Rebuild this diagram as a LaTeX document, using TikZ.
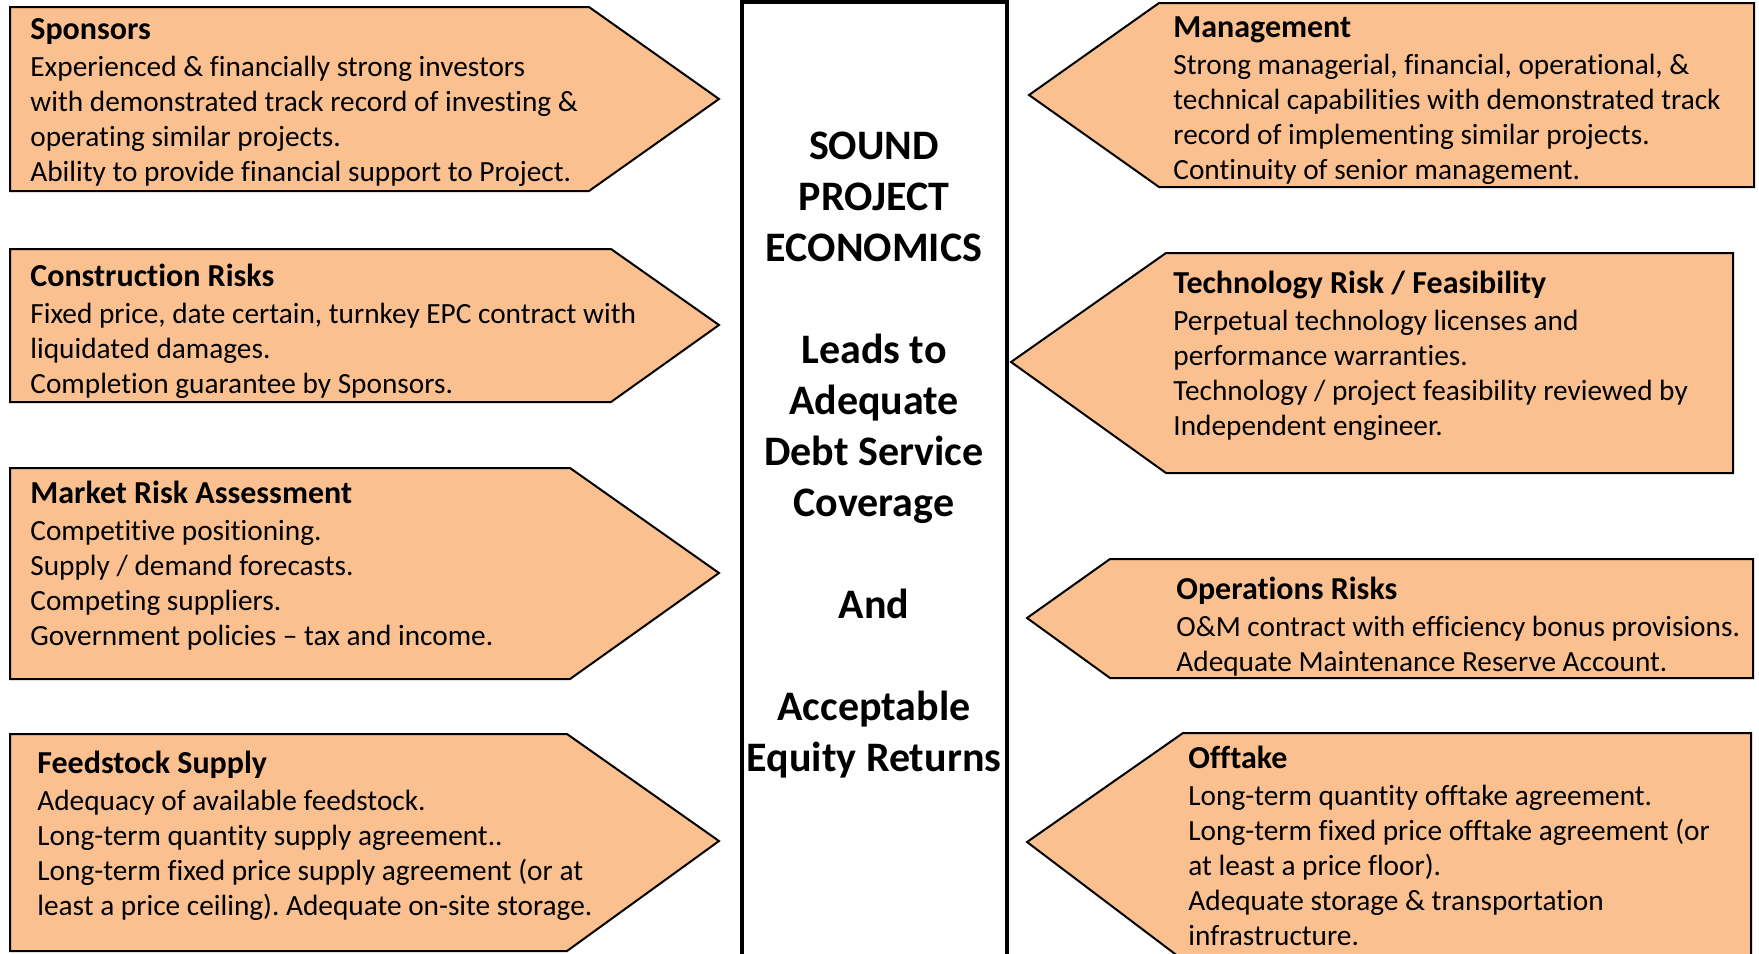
\documentclass[tikz,border=0pt]{standalone}
\usepackage{fontspec}
\setmainfont[Ligatures=NoCommon]{Carlito}
\usepackage{tikz}
\usetikzlibrary{positioning}
\frenchspacing
\definecolor{panelfill}{HTML}{FAC090}
\tikzstyle{panel} = [draw=black, line width=1pt, fill=panelfill, line join=miter]
\tikzstyle{core} = [draw=black, line width=2pt]
\tikzstyle{txt} = [anchor=north west, inner sep=0pt, align=left, font=\fontsize{14.65}{17.5}\selectfont]
\tikzstyle{headline} = [anchor=north, inner sep=0pt, align=center, font=\bfseries\fontsize{21}{25.5}\selectfont]
\newcommand{\boxtitle}[1]{{\fontsize{16}{17.5}\selectfont\bfseries #1}}

\begin{document}
\begin{tikzpicture}[x=0.5pt, y=-0.5pt]
  \useasboundingbox (0,0) rectangle (1759,953);
  % left side, pointing right
  \draw[panel] (10,7) -- (589,7) -- (719,99) -- (589,191) -- (10,191) -- cycle;
  \draw[panel] (10,249) -- (611,249) -- (719,325) -- (611,402) -- (10,402) -- cycle;
  \draw[panel] (10,468) -- (570,468) -- (719,573) -- (570,679) -- (10,679) -- cycle;
  \draw[panel] (10,734) -- (567,734) -- (719,841) -- (567,951) -- (10,951) -- cycle;
  % right side, pointing left
  \draw[panel] (1029,95) -- (1159,3) -- (1754,3) -- (1754,187) -- (1159,187) -- cycle;
  \draw[panel] (1011,362) -- (1166,253) -- (1733,253) -- (1733,473) -- (1166,473) -- cycle;
  \draw[panel] (1027,618) -- (1110,559) -- (1753,559) -- (1753,678) -- (1110,678) -- cycle;
  \draw[panel] (1027,842) -- (1183,733) -- (1751,733) -- (1751,960) -- (1183,960) -- cycle;
  % centre column
  \draw[core] (742,960) -- (742,2) -- (1007,2) -- (1007,960);

  \node (sponsors) [txt] at (30,18) {\boxtitle{Sponsors}\\[1pt]
    Experienced \& financially strong investors\\
    with demonstrated track record of investing \&\\
    operating similar projects.\\
    Ability to provide financial support to Project.};
  \node (construction) [txt] at (30,264) {\boxtitle{Construction Risks}\\[1pt]
    Fixed price, date certain, turnkey EPC contract with\\
    liquidated damages.\\
    Completion guarantee by Sponsors.};
  \node (market) [txt] at (30,481) {\boxtitle{Market Risk Assessment}\\[1pt]
    Competitive positioning.\\
    Supply / demand forecasts.\\
    Competing suppliers.\\
    Government policies -- tax and income.};
  \node (feedstock) [txt] at (37,751) {\boxtitle{Feedstock Supply}\\[1pt]
    Adequacy of available feedstock.\\
    Long-term quantity supply agreement..\\
    Long-term fixed price supply agreement (or at\\
    least a price ceiling). Adequate on-site storage.};
  \node (management) [txt] at (1173,16) {\boxtitle{Management}\\[1pt]
    Strong managerial, financial, operational, \&\\
    technical capabilities with demonstrated track\\
    record of implementing similar projects.\\
    Continuity of senior management.};
  \node (technology) [txt] at (1173,271) {\boxtitle{Technology Risk / Feasibility}\\[1pt]
    Perpetual technology licenses and\\
    performance warranties.\\
    Technology / project feasibility reviewed by\\
    Independent engineer.};
  \node (operations) [txt] at (1176,577) {\boxtitle{Operations Risks}\\[1pt]
    O\&M contract with efficiency bonus provisions.\\
    Adequate Maintenance Reserve Account.};
  \node (offtake) [txt] at (1188,746) {\boxtitle{Offtake}\\[1pt]
    Long-term quantity offtake agreement.\\
    Long-term fixed price offtake agreement (or\\
    at least a price floor).\\
    Adequate storage \& transportation\\
    infrastructure.};

  \node (economics) [headline] at (874,132) {SOUND\\PROJECT\\ECONOMICS\\[25.5pt]
    Leads to\\Adequate\\Debt Service\\Coverage\\[25.5pt]
    And\\[25.5pt]
    Acceptable\\Equity Returns};
\end{tikzpicture}
\end{document}
